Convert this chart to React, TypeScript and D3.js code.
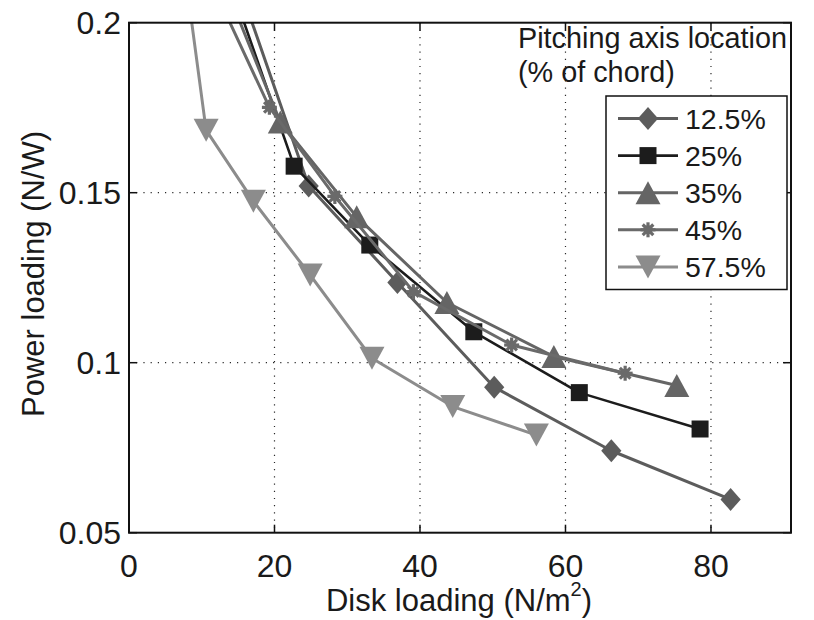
import React from "react";
import * as d3 from "d3";

// Series data: disk loading (N/m^2) vs power loading (N/W)
const seriesLabels = ["12.5%", "25%", "35%", "45%", "57.5%"];

const disk125 = [15.3, 24.7, 36.9, 50.2, 66.3, 82.7];
const power125 = [0.21, 0.152, 0.1236, 0.0928, 0.0741, 0.0598];

const disk25 = [14.2, 22.7, 33.1, 47.4, 61.9, 78.5];
const power25 = [0.21, 0.1578, 0.1346, 0.1091, 0.0912, 0.0805];

const disk35 = [13.4, 20.8, 31.3, 43.7, 58.4, 75.3];
const power35 = [0.21, 0.1708, 0.1429, 0.1177, 0.1018, 0.0933];

const disk45 = [11.7, 19.3, 28.3, 39.1, 52.6, 68.2];
const power45 = [0.21, 0.1751, 0.1489, 0.1209, 0.1052, 0.0969];

const disk575 = [8.0, 10.6, 17.1, 24.9, 33.4, 44.5, 56.0];
const power575 = [0.21, 0.1684, 0.1475, 0.1258, 0.1013, 0.0871, 0.0787];

const xTicks = [0, 20, 40, 60, 80];
const yTicks = [0.05, 0.1, 0.15, 0.2];
const yTickLabels = ["0.05", "0.1", "0.15", "0.2"];

const legendTitle = ["Pitching axis location", "(% of chord)"];

type Marker = "diamond" | "square" | "triangleUp" | "star" | "triangleDown";

const styles: { color: string; width: number; marker: Marker }[] = [
  { color: "#5c5c5c", width: 3, marker: "diamond" },
  { color: "#1c1c1c", width: 2.6, marker: "square" },
  { color: "#656565", width: 3, marker: "triangleUp" },
  { color: "#6a6a6a", width: 3, marker: "star" },
  { color: "#8c8c8c", width: 3, marker: "triangleDown" },
];

const FONT = "'Liberation Sans', Arial, Helvetica, sans-serif";
const TEXT = "#1a1a1a";

function MarkerShape({ type, x, y, color, scale = 1 }: { type: Marker; x: number; y: number; color: string; scale?: number }) {
  if (type === "diamond") {
    const r = 11.5 * scale;
    return <path d={`M${x},${y - r}L${x + r * 0.88},${y}L${x},${y + r}L${x - r * 0.88},${y}Z`} fill={color} />;
  }
  if (type === "square") {
    const s = 8.5 * scale;
    return <rect x={x - s} y={y - s} width={2 * s} height={2 * s} fill={color} />;
  }
  if (type === "triangleUp") {
    const w = 12.5 * scale, h = 11.5 * scale;
    return <path d={`M${x},${y - h}L${x + w},${y + h}L${x - w},${y + h}Z`} fill={color} />;
  }
  if (type === "triangleDown") {
    const w = 12.5 * scale, h = 11.5 * scale;
    return <path d={`M${x},${y + h}L${x + w},${y - h}L${x - w},${y - h}Z`} fill={color} />;
  }
  // star / asterisk
  const r = 7.5 * scale;
  const angles = [0, 45, 90, 135];
  return (
    <g>
      <circle cx={x} cy={y} r={4.5 * scale} fill={color} />
      {angles.map((a) => {
        const rad = (a * Math.PI) / 180;
        return (
          <line
            key={a}
            x1={x - r * Math.cos(rad)}
            y1={y - r * Math.sin(rad)}
            x2={x + r * Math.cos(rad)}
            y2={y + r * Math.sin(rad)}
            stroke={color}
            strokeWidth={3.2 * scale}
          />
        );
      })}
    </g>
  );
}

export default function App() {
  const left = 129, right = 791, top = 22.7, bottom = 532.7;
  const x = d3.scaleLinear().domain([0, 91]).range([left, right]);
  const y = d3.scaleLinear().domain([0.05, 0.2]).range([bottom, top]);

  const series = [
    { xs: disk125, ys: power125 },
    { xs: disk25, ys: power25 },
    { xs: disk35, ys: power35 },
    { xs: disk45, ys: power45 },
    { xs: disk575, ys: power575 },
  ];

  const line = d3
    .line<[number, number]>()
    .x((d) => x(d[0]))
    .y((d) => y(d[1]));

  const tickLen = 8;
  const gridX = xTicks.filter((t) => t > 0);
  const gridY = yTicks.filter((t) => t > 0.05 && t < 0.2);

  // legend layout
  const lgLeft = 606, lgTop = 96, lgRight = 787, lgBottom = 289.5;
  const rowY0 = 118.5, rowStep = 37.1;

  return (
    <div style={{ position: "absolute", left: 0, top: 0 }}>
      <svg width={814} height={620} style={{ display: "block", background: "#fff" }}>
        <defs>
          <clipPath id="plotClip">
            <rect x={left} y={top} width={right - left} height={bottom - top} />
          </clipPath>
        </defs>
        <rect x={0} y={0} width={814} height={620} fill="#fff" />

        {/* grid */}
        {gridX.map((t) => (
          <line key={"gx" + t} x1={x(t)} x2={x(t)} y1={top} y2={bottom} stroke="#2a2a2a" strokeWidth={1.2} strokeDasharray="1.2,6" />
        ))}
        {gridY.map((t) => (
          <line key={"gy" + t} x1={left} x2={right} y1={y(t)} y2={y(t)} stroke="#2a2a2a" strokeWidth={1.2} strokeDasharray="1.2,6" />
        ))}

        {/* data */}
        <g clipPath="url(#plotClip)">
          {series.map((s, i) => {
            const pts = s.xs.map((v, k) => [v, s.ys[k]] as [number, number]);
            return (
              <g key={"s" + i}>
                <path d={line(pts) || ""} fill="none" stroke={styles[i].color} strokeWidth={styles[i].width} strokeLinejoin="round" />
                {pts.map((p, k) => (
                  <MarkerShape key={k} type={styles[i].marker} x={x(p[0])} y={y(p[1])} color={styles[i].color} />
                ))}
              </g>
            );
          })}
        </g>

        {/* frame */}
        <rect x={left} y={top} width={right - left} height={bottom - top} fill="none" stroke="#111" strokeWidth={2} />

        {/* ticks */}
        {xTicks.map((t) => (
          <g key={"xt" + t}>
            <line x1={x(t)} x2={x(t)} y1={bottom} y2={bottom - tickLen} stroke="#111" strokeWidth={1.5} />
            <line x1={x(t)} x2={x(t)} y1={top} y2={top + tickLen} stroke="#111" strokeWidth={1.5} />
            <text x={x(t)} y={576.5} textAnchor="middle" fontFamily={FONT} fontSize={32} fill={TEXT}>
              {t}
            </text>
          </g>
        ))}
        {yTicks.map((t, i) => (
          <g key={"yt" + t}>
            <line x1={left} x2={left + tickLen} y1={y(t)} y2={y(t)} stroke="#111" strokeWidth={1.5} />
            <line x1={right} x2={right - tickLen} y1={y(t)} y2={y(t)} stroke="#111" strokeWidth={1.5} />
            <text x={121} y={y(t) + 11.5} textAnchor="end" fontFamily={FONT} fontSize={32} fill={TEXT}>
              {yTickLabels[i]}
            </text>
          </g>
        ))}

        {/* axis labels */}
        <text x={459} y={611} textAnchor="middle" fontFamily={FONT} fontSize={31} fill={TEXT}>
          Disk loading (N/m
          <tspan fontSize={20} dy={-15.5}>2</tspan>
          <tspan dy={15.5}>)</tspan>
        </text>
        <text transform={`translate(43.5,274) rotate(-90)`} textAnchor="middle" fontFamily={FONT} fontSize={31} fill={TEXT}>
          Power loading (N/W)
        </text>

        {/* legend title */}
        <text x={518} y={48} fontFamily={FONT} fontSize={28.8} fill={TEXT}>
          {legendTitle[0]}
        </text>
        <text x={518} y={81.5} fontFamily={FONT} fontSize={28.8} fill={TEXT}>
          {legendTitle[1]}
        </text>

        {/* legend box */}
        <rect x={lgLeft} y={lgTop} width={lgRight - lgLeft} height={lgBottom - lgTop} fill="#fff" stroke="#111" strokeWidth={1.5} />
        {seriesLabels.map((lab, i) => {
          const cy = rowY0 + i * rowStep;
          return (
            <g key={"lg" + i}>
              <line x1={618} x2={678} y1={cy} y2={cy} stroke={styles[i].color} strokeWidth={styles[i].width} />
              <MarkerShape type={styles[i].marker} x={648} y={cy} color={styles[i].color} />
              <text x={685} y={cy + 10} fontFamily={FONT} fontSize={28.5} fill={TEXT}>
                {lab}
              </text>
            </g>
          );
        })}
      </svg>
    </div>
  );
}
